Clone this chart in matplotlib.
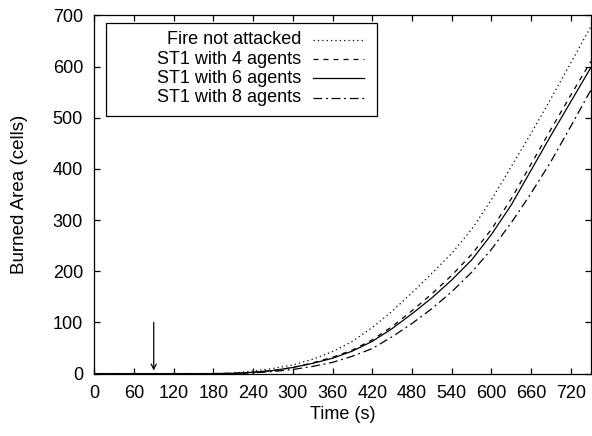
import numpy as np
import matplotlib
matplotlib.use("Agg")
import matplotlib.pyplot as plt
from matplotlib.patches import Rectangle

plt.rcParams.update({
    "font.family": ["Liberation Sans", "DejaVu Sans"], "font.size": 13,
    "axes.linewidth": 0.9,
})

# time (s) and burned area (cells)
time = [0, 180, 210, 240, 270, 300, 330, 360, 390, 420, 450, 480, 510, 540,
        570, 600, 630, 660, 690, 720, 750]
fire_not_attacked = [0, 0, 1, 5, 10, 17, 28, 43, 63, 90, 122, 158, 196, 235,
                     282, 340, 405, 470, 538, 608, 678]
st1_4_agents = [0, 0, 0.5, 2.5, 6, 12, 21, 32, 46, 66, 92, 123, 156, 192,
                233, 282, 342, 410, 478, 545, 610]
st1_6_agents = [0, 0, 0.5, 2.5, 6, 12, 20, 30, 44, 63, 88, 117, 148, 183,
                222, 272, 330, 398, 466, 532, 598]
st1_8_agents = [0, 0, 0.3, 1.5, 4, 8, 14, 22, 34, 49, 72, 98, 127, 160,
                198, 243, 295, 353, 415, 484, 554]

labels = ["Fire not attacked", "ST1 with 4 agents", "ST1 with 6 agents", "ST1 with 8 agents"]
series = [fire_not_attacked, st1_4_agents, st1_6_agents, st1_8_agents]
styles = [(0, (1, 2.5)), (0, (4, 4)), "-", (0, (7, 3, 1.5, 3))]

xticks = list(range(0, 721, 60))
yticks = list(range(0, 701, 100))
arrow_t, arrow_top, arrow_tip = 90, 100, 6

fig = plt.figure(figsize=(5.92, 4.36), dpi=100)
ax = fig.add_axes([0.159, 0.1431, 0.839, 0.8214])

for y, lab, ls in zip(series, labels, styles):
    ax.plot(time, y, color="black", linestyle=ls, linewidth=0.9)

ax.annotate("", xy=(arrow_t, arrow_tip), xytext=(arrow_t, arrow_top),
            arrowprops=dict(arrowstyle="->", color="black", lw=0.9,
                            shrinkA=0, shrinkB=0, mutation_scale=9))

ax.set_xlim(0, 750)
ax.set_ylim(0, 700)
ax.set_xticks(xticks)
ax.set_yticks(yticks)
ax.tick_params(direction="in", length=4.5, width=0.9, top=True, right=True, pad=8)
ax.set_xlabel("Time (s)", labelpad=3)
ax.set_ylabel("Burned Area (cells)", labelpad=18, fontsize=13.5)

# gnuplot-style key: text right-aligned, line sample on the right
ax.add_patch(Rectangle((0.024, 0.720), 0.545, 0.258, transform=ax.transAxes,
                       facecolor="white", edgecolor="black", linewidth=0.9, zorder=3))
for i, (lab, ls) in enumerate(zip(labels, styles)):
    yy = 0.9316 - i * 0.0537
    ax.text(0.417, yy, lab, transform=ax.transAxes, ha="right", va="center", zorder=4)
    ax.plot([0.440, 0.544], [yy, yy], transform=ax.transAxes, color="black",
            linestyle=ls, linewidth=0.9, zorder=4)

fig.savefig("out.png", dpi=100, facecolor="white")
